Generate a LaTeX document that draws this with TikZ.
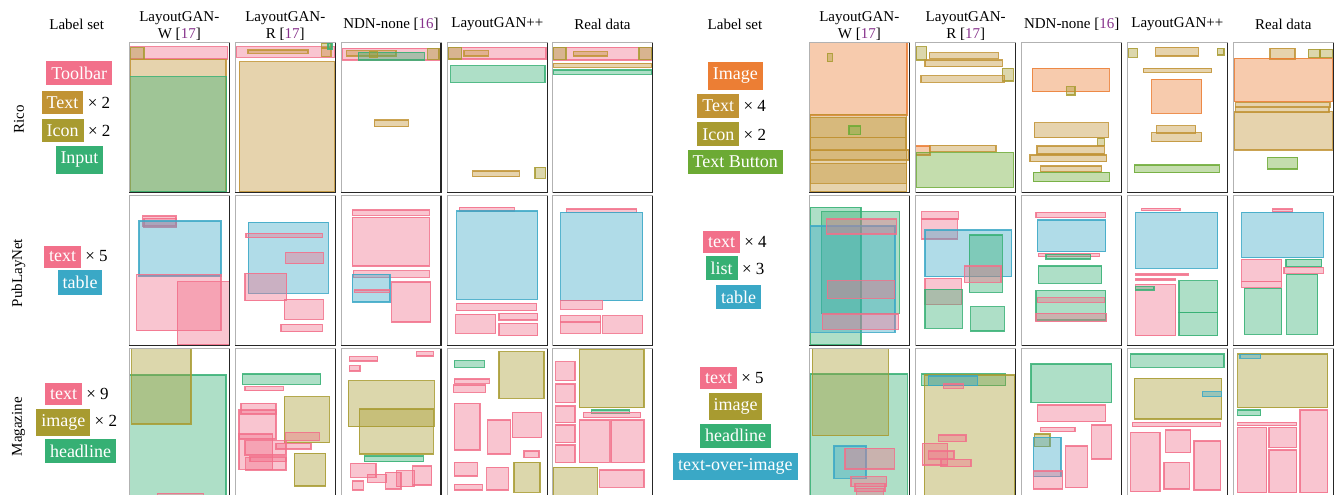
\documentclass[tikz,border=0pt]{standalone}
\usepackage{fontspec}
\setmainfont{Liberation Serif}
\definecolor{cpink}{RGB}{242,112,138}
\definecolor{ctan}{RGB}{193,147,52}
\definecolor{colive}{RGB}{168,155,48}
\definecolor{cgreen}{RGB}{54,176,116}
\definecolor{corange}{RGB}{236,126,52}
\definecolor{cleaf}{RGB}{108,170,52}
\definecolor{cblue}{RGB}{58,168,198}
\definecolor{ccite}{RGB}{135,50,140}
\newcommand{\lbox}[5]{\draw[#1] (#2,#3) rectangle (#4,#5);}
\newcommand{\pframe}[2]{\draw[framelt] (#1,#2) rectangle ++(100,149.5);\draw[framedk] (#1+100,#2) -- ++(0,149.5) -- ++(-100,0);}
\newcommand{\cit}[1]{[{\color{ccite}#1}]}
\tikzset{
  lay/.style={line width=1.1pt, fill opacity=0.4, draw opacity=0.85},
  pk/.style={lay, draw=cpink, fill=cpink},
  tn/.style={lay, draw=ctan, fill=ctan},
  ol/.style={lay, draw=colive, fill=colive},
  gr/.style={lay, draw=cgreen, fill=cgreen},
  or/.style={lay, draw=corange, fill=corange},
  lg/.style={lay, draw=cleaf, fill=cleaf},
  bl/.style={lay, draw=cblue, fill=cblue},
  framelt/.style={draw=black!30, line width=0.8pt},
  framedk/.style={draw=black!85, line width=1.1pt},
  head/.style={font=\fontsize{15}{17.3}\selectfont, align=center, inner sep=0pt},
  tag/.style={font=\fontsize{18}{20}\selectfont, text=white, inner xsep=5pt, inner ysep=5.8pt},
  mult/.style={font=\fontsize{17}{20}\selectfont, anchor=base west, inner sep=0pt},
}
\begin{document}
\begin{tikzpicture}[x=1pt,y=-1pt]
\useasboundingbox (0,0) rectangle (1334,495);
\clip (0,0) rectangle (1334,495);
\fill[white] (0,0) rectangle (1334,495);

% ---------------- headers
\node[head] (hl0) at (76.7,24) {Label set};
\node[head] (hl1) at (179.3,25.8) {LayoutGAN-\\W \cit{17}};
\node[head] (hl2) at (285.3,25.8) {LayoutGAN-\\R \cit{17}};
\node[head] (hl3) at (391,24) {NDN-none \cit{16}};
\node[head] (hl4) at (497.3,24) {LayoutGAN++};
\node[head] (hl5) at (602.5,24) {Real data};
\node[head] (hr0) at (735,24) {Label set};
\node[head] (hr1) at (859.3,25.8) {LayoutGAN-\\W \cit{17}};
\node[head] (hr2) at (965.7,25.8) {LayoutGAN-\\R \cit{17}};
\node[head] (hr3) at (1071.7,24) {NDN-none \cit{16}};
\node[head] (hr4) at (1177.3,24) {LayoutGAN++};
\node[head] (hr5) at (1283.3,24) {Real data};

\node[head, rotate=90] (rico) at (19,119.3) {Rico};
\node[head, rotate=90] (pub) at (18.5,273) {PubLayNet};
\node[head, rotate=90] (mag) at (18.5,426.7) {Magazine};

% ---------------- label tags
\node[tag, fill=cpink] (a1) at (79.2,73.3) {Toolbar};
\node[tag, fill=ctan] (a2) at (62.5,102.5) {Text};
\node[mult] (a2m) at ([xshift=4pt]a2.base east) {× 2};
\node[tag, fill=colive] (a3) at (62.7,130.3) {Icon};
\node[mult] (a3m) at ([xshift=4pt]a3.base east) {× 2};
\node[tag, fill=cgreen] (a4) at (79.5,160) {Input};

\node[tag, fill=corange] (b1) at (735.3,76) {Image};
\node[tag, fill=ctan] (b2) at (718.3,105.8) {Text};
\node[mult] (b2m) at ([xshift=4pt]b2.base east) {× 4};
\node[tag, fill=colive] (b3) at (718.3,134.2) {Icon};
\node[mult] (b3m) at ([xshift=4pt]b3.base east) {× 2};
\node[tag, fill=cleaf] (b4) at (735.2,162) {Text Button};

\node[tag, fill=cpink] (c1) at (62.5,256.8) {text};
\node[mult] (c1m) at ([xshift=4pt]c1.base east) {× 5};
\node[tag, fill=cblue] (c2) at (80,282.5) {table};

\node[tag, fill=cpink] (d1) at (721.5,242.2) {text};
\node[mult] (d1m) at ([xshift=4pt]d1.base east) {× 4};
\node[tag, fill=cgreen] (d2) at (721.7,268) {list};
\node[mult] (d2m) at ([xshift=4pt]d2.base east) {× 3};
\node[tag, fill=cblue] (d3) at (738.7,297.3) {table};

\node[tag, fill=cpink] (e1) at (63.5,394.2) {text};
\node[mult] (e1m) at ([xshift=4pt]e1.base east) {× 9};
\node[tag, fill=colive] (e2) at (63.3,422.3) {image};
\node[mult] (e2m) at ([xshift=4pt]e2.base east) {× 2};
\node[tag, fill=cgreen] (e3) at (80.5,451.3) {headline};

\node[tag, fill=cpink] (f1) at (718.5,378.2) {text};
\node[mult] (f1m) at ([xshift=4pt]f1.base east) {× 5};
\node[tag, fill=colive] (f2) at (735.5,406.2) {image};
\node[tag, fill=cgreen] (f3) at (735.5,435.8) {headline};
\node[tag, fill=cblue] (f4) at (735.3,466.7) {text-over-image};

% ================= ROW 1 (Rico) left
\lbox{pk}{129.3}{46.7}{227.7}{59}
\lbox{ol}{130}{47.7}{144}{59.3}
\lbox{tn}{130}{59.3}{226}{192}
\lbox{gr}{129.3}{76.7}{226.7}{192}

\lbox{pk}{236}{46.7}{335}{57.3}
\lbox{tn}{248}{50}{308}{53.3}
\lbox{tn}{239.3}{61.7}{334.3}{192}
\lbox{ol}{321.7}{43.3}{331}{48}
\lbox{tn}{321.7}{48}{331}{56.7}
\lbox{gr}{328}{43.7}{332}{49}

\lbox{pk}{342.3}{48.3}{439}{60}
\lbox{tn}{346.7}{50.7}{396}{56}
\lbox{gr}{358.3}{52.3}{424.3}{60}
\lbox{ol}{369.3}{51.7}{377.7}{57.3}
\lbox{ol}{427.7}{48.3}{439}{59.3}
\lbox{tn}{374.3}{120}{408.3}{126.7}

\lbox{pk}{448.3}{47.3}{546}{59}
\lbox{ol}{448.3}{47.3}{461.7}{59}
\lbox{tn}{464}{50.7}{488.3}{56}
\lbox{gr}{450.7}{65.7}{545}{82.3}
\lbox{tn}{472.7}{171}{519.3}{176.7}
\lbox{ol}{535}{167.3}{545.7}{178.3}

\lbox{pk}{553.3}{47.3}{651.7}{60}
\lbox{ol}{553.3}{47.3}{566}{59.3}
\lbox{tn}{573.3}{51.7}{607.3}{56}
\lbox{ol}{639}{47.7}{651.7}{59.3}
\lbox{tn}{553.3}{63.3}{651.7}{67.3}
\lbox{gr}{553.3}{70}{651.7}{74.3}

% ================= ROW 1 right
\lbox{or}{809.3}{42.7}{907}{115}
\lbox{ol}{827.3}{53.3}{832.3}{61.7}
\lbox{tn}{810}{114.3}{906.7}{192}
\lbox{tn}{810}{117.3}{906}{137.3}
\lbox{tn}{810}{137.3}{906}{150.7}
\lbox{tn}{810}{150}{909}{160}
\lbox{tn}{810}{163.3}{906.7}{183.3}
\lbox{lg}{849}{126}{860.7}{134.3}

\lbox{ol}{916}{46.7}{926.7}{60}
\lbox{tn}{929.3}{52.7}{998.3}{58.3}
\lbox{tn}{925}{60}{1002.3}{66.7}
\lbox{ol}{1002.3}{68.3}{1013.3}{81}
\lbox{tn}{921}{75.7}{1004.3}{82.3}
\lbox{or}{915.7}{146}{930}{155}
\lbox{tn}{929.3}{145.3}{996}{151.7}
\lbox{lg}{916.7}{152.7}{1013.3}{187.3}

\lbox{or}{1032.3}{68.3}{1109.3}{91.7}
\lbox{ol}{1066.7}{86.7}{1075}{95}
\lbox{tn}{1034.3}{122.7}{1108.3}{137.7}
\lbox{ol}{1097.7}{138.3}{1104.3}{145.7}
\lbox{tn}{1037}{146}{1104.3}{154}
\lbox{tn}{1030}{155}{1106.7}{161.7}
\lbox{tn}{1040.7}{166}{1101.7}{171.7}
\lbox{lg}{1033.3}{172.3}{1109.3}{181.7}

\lbox{ol}{1128.3}{48.3}{1137.3}{57.3}
\lbox{tn}{1155.7}{47.3}{1198.3}{56}
\lbox{ol}{1217.3}{48.3}{1224}{55}
\lbox{tn}{1143.3}{68.3}{1211.7}{72.3}
\lbox{or}{1151.7}{79.3}{1201.7}{113.3}
\lbox{tn}{1156.7}{125.7}{1195.7}{133.3}
\lbox{tn}{1151.7}{132.7}{1201.7}{141.7}
\lbox{lg}{1134.3}{165}{1219.3}{172.7}

\lbox{tn}{1270}{48.3}{1295}{59}
\lbox{ol}{1308.3}{49.3}{1320}{57.7}
\lbox{ol}{1320}{49.3}{1332.3}{57.7}
\lbox{or}{1234.3}{58.3}{1332.3}{101.7}
\lbox{tn}{1235.7}{102.3}{1330}{107.3}
\lbox{tn}{1235.7}{106.7}{1329}{112.7}
\lbox{tn}{1234.3}{111.7}{1332.3}{150}
\lbox{lg}{1267.7}{157.3}{1297.7}{169}

% ================= ROW 2 (PubLayNet) left
\lbox{pk}{142.7}{216}{176}{226}
\lbox{pk}{144}{218.3}{176.7}{227.3}
\lbox{bl}{139}{221}{221}{276}
\lbox{pk}{136.7}{274.3}{221}{330.7}
\lbox{pk}{177.3}{281.7}{229.3}{345}

\lbox{bl}{248.3}{222.3}{328.3}{293.3}
\lbox{pk}{246}{233.3}{322.3}{237.7}
\lbox{pk}{285.7}{252.3}{323.3}{263.7}
\lbox{pk}{245}{273.3}{286.7}{300.7}
\lbox{pk}{284.3}{299.3}{323.3}{319.3}
\lbox{pk}{281}{324.3}{322.3}{331.7}

\lbox{pk}{352.3}{210}{429.3}{215.3}
\lbox{pk}{352.3}{217.3}{429.3}{266}
\lbox{pk}{353.3}{270.7}{429.3}{277.3}
\lbox{bl}{352.3}{274.3}{390}{302}
\lbox{pk}{354.3}{290}{389.3}{292.3}
\lbox{pk}{391.7}{282}{430.7}{322}

\lbox{pk}{459.3}{207.3}{514.3}{211}
\lbox{bl}{456.7}{211}{537.7}{299.3}
\lbox{pk}{456.7}{303.3}{536.7}{310.7}
\lbox{pk}{455.7}{314.3}{495.7}{333.3}
\lbox{pk}{499}{313.3}{537.7}{320}
\lbox{pk}{499}{323.3}{537.7}{335.7}

\lbox{pk}{566.7}{209}{636.7}{212.3}
\lbox{bl}{560.7}{212.3}{642.7}{300.7}
\lbox{pk}{560.7}{300.7}{602.3}{309.3}
\lbox{pk}{560.7}{315.7}{600.7}{322.3}
\lbox{pk}{560.7}{321.7}{600.7}{333.3}
\lbox{pk}{602.7}{315.7}{642.7}{333.3}

% ================= ROW 2 right
\lbox{gr}{810}{207.3}{861}{345}
\lbox{gr}{821.7}{211.7}{899.3}{313.3}
\lbox{bl}{810}{226}{895}{332.3}
\lbox{pk}{826.7}{219}{896.7}{234}
\lbox{pk}{827.7}{280.7}{894.3}{298.3}
\lbox{pk}{822.3}{314}{898.3}{329.3}

\lbox{pk}{921.7}{211.7}{958.3}{219}
\lbox{pk}{921.7}{219}{957.3}{239}
\lbox{bl}{925}{230}{1011.7}{276.7}
\lbox{gr}{969.3}{235}{1002.3}{292.3}
\lbox{pk}{964.3}{266}{1001}{282.3}
\lbox{pk}{925}{278.3}{961.7}{304.3}
\lbox{gr}{925}{289.3}{962.3}{328.3}
\lbox{gr}{970.7}{306.7}{1004.3}{331}

\lbox{pk}{1036}{212.3}{1105.7}{217.7}
\lbox{bl}{1037.3}{220}{1105.7}{251.7}
\lbox{pk}{1038.3}{253.3}{1099.3}{256.7}
\lbox{gr}{1046}{254.3}{1090.7}{259}
\lbox{gr}{1038.3}{266}{1101.7}{283.3}
\lbox{gr}{1036}{290.7}{1105.7}{320}
\lbox{pk}{1037.3}{297.7}{1104.3}{302.3}
\lbox{pk}{1036}{313.3}{1106.7}{321.7}

\lbox{pk}{1141.7}{208.3}{1180}{210.7}
\lbox{bl}{1135.7}{212.3}{1217.7}{268.3}
\lbox{pk}{1135.7}{274}{1188.3}{275.3}
\lbox{pk}{1135.7}{279}{1175.7}{280.3}
\lbox{pk}{1135.7}{284.3}{1175.7}{335.7}
\lbox{gr}{1135.7}{286.7}{1154}{290}
\lbox{gr}{1179}{280.7}{1217.7}{312.7}
\lbox{gr}{1179}{312.7}{1217.7}{335.7}

\lbox{pk}{1272.7}{209}{1292.7}{212}
\lbox{bl}{1241.7}{212.3}{1323.3}{257.7}
\lbox{pk}{1241.7}{259.3}{1281.7}{281.7}
\lbox{pk}{1241.7}{281.7}{1281.7}{287.3}
\lbox{gr}{1286}{259.3}{1321.7}{266.7}
\lbox{pk}{1284}{267.3}{1323.3}{273.3}
\lbox{gr}{1244.3}{288.3}{1281.7}{334.3}
\lbox{gr}{1286.7}{274.3}{1317.7}{334.3}

% ================= ROW 3 (Magazine) left
\lbox{gr}{129.3}{375}{226}{497}
\lbox{ol}{131.7}{348.7}{191}{424}
\lbox{pk}{157.3}{493.3}{203.3}{499}

\lbox{gr}{242.3}{374}{320.7}{384.3}
\lbox{pk}{245}{386.7}{283.3}{390.7}
\lbox{ol}{284.3}{396.7}{329.3}{442.7}
\lbox{pk}{241}{403.3}{276}{414}
\lbox{pk}{239}{410}{276}{439}
\lbox{pk}{239}{434}{272.7}{469.3}
\lbox{pk}{245}{440.7}{286}{455}
\lbox{pk}{276}{443.3}{311}{449}
\lbox{pk}{285.7}{432.3}{319.3}{440.7}
\lbox{pk}{245.7}{457.7}{286}{470}
\lbox{pk}{250}{456.7}{286}{461.7}
\lbox{ol}{294.3}{453.3}{325.7}{486}

\lbox{pk}{349.3}{356.7}{377.7}{361}
\lbox{pk}{416.7}{351.7}{433.3}{356}
\lbox{pk}{349.3}{365.7}{360}{371}
\lbox{ol}{348.3}{380.7}{434.3}{426.7}
\lbox{ol}{359.3}{409}{433.3}{454}
\lbox{gr}{364.3}{456}{423.3}{461.7}
\lbox{pk}{350.7}{463.3}{376}{477.3}
\lbox{pk}{367.3}{474.3}{386.7}{482.3}
\lbox{pk}{385.7}{472.3}{401}{489}
\lbox{pk}{396.7}{470.7}{414.3}{486.7}
\lbox{pk}{412.7}{466}{431.7}{485}
\lbox{pk}{352.3}{481}{363.3}{490}

\lbox{gr}{454.3}{360.7}{484.3}{367.3}
\lbox{ol}{499}{351.7}{544}{398.3}
\lbox{pk}{454.3}{379}{489.3}{383.3}
\lbox{pk}{453.3}{385}{485.7}{392.3}
\lbox{pk}{454.3}{403.3}{480}{450}
\lbox{pk}{487.7}{420}{510.7}{454}
\lbox{pk}{512.3}{412.3}{541.7}{437.7}
\lbox{pk}{524}{451}{539}{457.7}
\lbox{pk}{454.3}{462.3}{477.3}{476}
\lbox{pk}{486.7}{467.3}{508.3}{490}
\lbox{ol}{514}{462.3}{540}{492.3}
\lbox{pk}{454.3}{484.3}{482.3}{490}

\lbox{ol}{579.3}{349.3}{644}{407.7}
\lbox{pk}{555.7}{361.7}{575}{380.7}
\lbox{pk}{555.7}{384}{575}{402.7}
\lbox{pk}{555.7}{406}{575}{422.7}
\lbox{pk}{555.7}{425}{575}{442.7}
\lbox{pk}{555.7}{445}{575}{462.7}
\lbox{gr}{591.7}{410}{629.3}{413.3}
\lbox{pk}{583.3}{412.3}{640.7}{417.7}
\lbox{pk}{579.3}{420}{609.3}{462.7}
\lbox{pk}{611}{420}{644}{462.7}
\lbox{ol}{553.3}{467.3}{597.3}{497}
\lbox{pk}{599.3}{470}{644}{487.3}

% ================= ROW 3 right
\lbox{gr}{810}{374}{907.3}{497}
\lbox{ol}{812.3}{348.7}{888.3}{435.7}
\lbox{bl}{834}{446}{866}{478.3}
\lbox{pk}{845}{448.3}{894.3}{469}
\lbox{pk}{851}{476.7}{886.7}{486.7}
\lbox{pk}{855}{483.3}{885}{491.7}
\lbox{pk}{856.7}{488.3}{883.3}{497}

\lbox{gr}{921.7}{374}{1005.7}{385.7}
\lbox{ol}{924.3}{375}{1015}{497}
\lbox{bl}{928.3}{376}{977.7}{385.7}
\lbox{pk}{943.3}{384}{963.3}{388.3}
\lbox{pk}{938.3}{435}{966}{441.7}
\lbox{pk}{922.3}{443.3}{947.7}{465}
\lbox{pk}{928.3}{451}{954}{459}
\lbox{pk}{941}{459.3}{971}{466.7}

\lbox{gr}{1031}{364}{1111.7}{402.3}
\lbox{pk}{1037.3}{405}{1105.7}{421.7}
\lbox{pk}{1040.7}{427.3}{1075}{431.7}
\lbox{ol}{1034.3}{434}{1050}{446.7}
\lbox{bl}{1033.3}{437.3}{1061}{476.7}
\lbox{pk}{1033.3}{471}{1062.7}{489}
\lbox{pk}{1065.7}{446}{1087.3}{487.7}
\lbox{pk}{1091.7}{425}{1111.7}{459}

\lbox{gr}{1130.7}{354}{1224}{367.3}
\lbox{ol}{1134.3}{378.3}{1221.7}{419}
\lbox{bl}{1202.3}{391.7}{1221.7}{396.7}
\lbox{pk}{1132.3}{422.3}{1220.7}{426.7}
\lbox{pk}{1130.7}{432.3}{1160}{491.7}
\lbox{pk}{1165.7}{430}{1190.7}{452.7}
\lbox{pk}{1164}{462.3}{1189.3}{489}
\lbox{pk}{1194}{441}{1220.7}{490}

\lbox{ol}{1237.7}{354}{1327.7}{407.7}
\lbox{bl}{1240}{354.3}{1260.7}{358.3}
\lbox{gr}{1237.7}{410}{1260.7}{415.7}
\lbox{pk}{1237.7}{422.3}{1296.7}{425.7}
\lbox{pk}{1237.7}{427.3}{1266.7}{492.7}
\lbox{pk}{1269}{427.3}{1296.7}{447.7}
\lbox{pk}{1269}{450}{1296.7}{492.7}
\lbox{pk}{1300}{410}{1327.7}{492.7}

% ================= frames
\foreach \py in {42.7,195.7,348.7}{
  \foreach \px in {129.3,235.3,341,447.3,552.5,809.3,915.7,1021.7,1127.3,1233.3}{
    \pframe{\px}{\py}
  }
}
\end{tikzpicture}
\end{document}
